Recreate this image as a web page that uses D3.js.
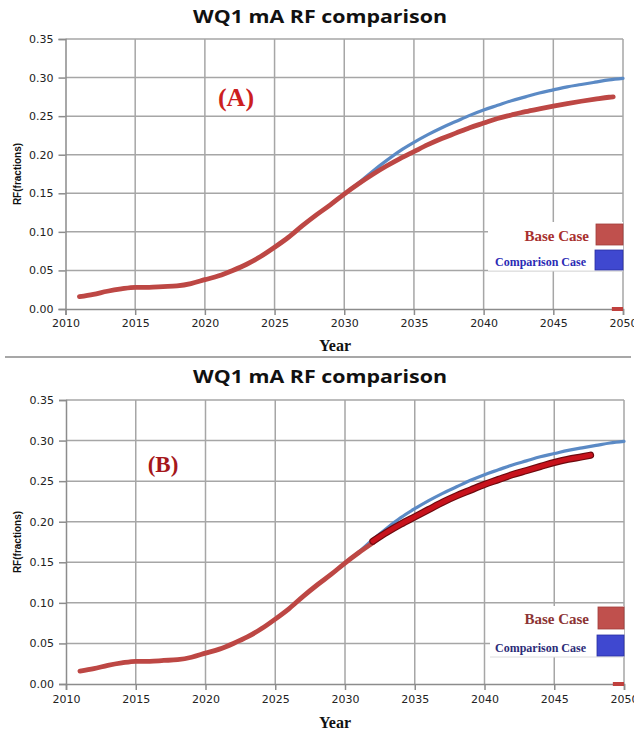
<!DOCTYPE html>
<html>
<head>
<meta charset="utf-8">
<script src="https://cdn.jsdelivr.net/npm/d3@7"></script>
<style>
  body { margin: 0; background: #fff; }
  svg { display: block; }
</style>
</head>
<body>
<div id="chart"></div>
<script>
(function() {
  // ---- data ----
  var xTicks = [2010, 2015, 2020, 2025, 2030, 2035, 2040, 2045, 2050];
  var yTicks = [0, 0.05, 0.10, 0.15, 0.20, 0.25, 0.30, 0.35];

  var baseYears = [2011, 2012, 2013, 2014, 2015, 2016, 2017, 2018, 2019, 2020,
                   2021, 2022, 2023, 2024, 2025, 2026, 2027, 2028, 2029, 2030,
                   2031, 2032, 2033, 2034, 2035, 2036, 2037, 2038, 2039, 2040,
                   2041, 2042, 2043, 2044, 2045, 2046, 2047, 2048, 2049, 2049.3];
  var baseCase = [0.016, 0.019, 0.023, 0.026, 0.028, 0.028, 0.029, 0.030, 0.033, 0.038,
                  0.043, 0.050, 0.058, 0.068, 0.080, 0.093, 0.108, 0.122, 0.135, 0.149,
                  0.162, 0.174, 0.185, 0.195, 0.204, 0.213, 0.221, 0.228, 0.235, 0.241,
                  0.247, 0.2515, 0.2558, 0.2595, 0.263, 0.2663, 0.2693, 0.272, 0.2745, 0.275];

  var compYears = [2029, 2030, 2031, 2032, 2033, 2034, 2035, 2036, 2037, 2038, 2039,
                   2040, 2041, 2042, 2043, 2044, 2045, 2046, 2047, 2048, 2049, 2050];
  var comparisonCase = [0.135, 0.149, 0.163, 0.178, 0.192, 0.205, 0.216, 0.226, 0.235, 0.243, 0.251,
                        0.258, 0.264, 0.270, 0.275, 0.280, 0.284, 0.288, 0.291, 0.294, 0.297, 0.299];

  // panel B: the base case after 2032 is redrawn
  var newBaseYears = [2032, 2033, 2034, 2035, 2036, 2037, 2038, 2039, 2040,
                      2041, 2042, 2043, 2044, 2045, 2046, 2047, 2047.6];
  var newBaseCase = [0.176, 0.187, 0.197, 0.206, 0.215, 0.224, 0.232, 0.239, 0.246,
                     0.252, 0.258, 0.263, 0.268, 0.273, 0.277, 0.280, 0.282];

  var tailYears = [2049.2, 2050];
  var tailValues = [0, 0];

  var W = 634, H = 733;
  var svg = d3.select('#chart').append('svg')
    .attr('width', W)
    .attr('height', H);

  var panels = [
    { label: '(A)', labelX: 236, labelY: 106, labelSize: 26, labelColor: '#cc1f1f',
      titleY: 23, x0: 65.5, x1: 623, yTop: 39, yBot: 309, tickY: 327, yearY: 351,
      legend: { boxX: 488, boxY: 222, boxW: 135, boxH: 49,
                baseColor: '#a8302e', compColor: '#2b2bb5',
                redRect: [596, 224, 27, 21], blueRect: [595, 250, 28, 20],
                baseTextY: 241, compTextY: 266 },
      redesign: false },
    { label: '(B)', labelX: 163, labelY: 472, labelSize: 23, labelColor: '#a5171b',
      titleY: 383, x0: 66, x1: 624, yTop: 400, yBot: 684, tickY: 703, yearY: 728,
      legend: { boxX: 490, boxY: 606, boxW: 134, boxH: 51,
                baseColor: '#8c3434', compColor: '#2c2c78',
                redRect: [598, 607, 26, 22], blueRect: [597, 635, 27, 21],
                baseTextY: 624, compTextY: 652 },
      redesign: true }
  ];

  // separator between the two panels
  svg.append('line')
    .attr('x1', 5).attr('x2', 631)
    .attr('y1', 357).attr('y2', 357)
    .style('stroke', '#8a8a8a')
    .style('stroke-width', 1.5);

  panels.forEach(drawPanel);

  function drawPanel(p) {
    var g = svg.append('g');
    var x = d3.scaleLinear().domain([2010, 2050]).range([p.x0, p.x1]);
    var y = d3.scaleLinear().domain([0, 0.35]).range([p.yBot, p.yTop]);

    // title
    g.append('text')
      .attr('x', 320).attr('y', p.titleY)
      .attr('text-anchor', 'middle')
      .attr('textLength', 254)
      .attr('lengthAdjust', 'spacingAndGlyphs')
      .style('font-family', '"Open Sans", "DejaVu Sans", sans-serif')
      .style('font-weight', 'bold')
      .style('font-size', '18px')
      .style('fill', '#111')
      .text('WQ1 mA RF comparison');

    // grid
    g.selectAll('.vgrid')
      .data(xTicks.slice(1))
      .enter().append('line')
        .attr('x1', x).attr('x2', x)
        .attr('y1', y(0.35)).attr('y2', y(0))
        .style('stroke', '#a6a6a6')
        .style('stroke-width', 1.5);
    g.selectAll('.hgrid')
      .data(yTicks.slice(1))
      .enter().append('line')
        .attr('x1', x(2010)).attr('x2', x(2050))
        .attr('y1', y).attr('y2', y)
        .style('stroke', '#a6a6a6')
        .style('stroke-width', 1.5);

    // axes
    var yAxis = d3.axisLeft(y).tickValues(yTicks).tickSize(7).tickFormat(d3.format('.2f'));
    var xAxis = d3.axisBottom(x).tickValues(xTicks).tickSize(6).tickFormat(d3.format('d'));

    var ya = g.append('g')
      .attr('transform', 'translate(' + x(2010) + ',0)')
      .call(yAxis);
    var xa = g.append('g')
      .attr('transform', 'translate(0,' + y(0) + ')')
      .call(xAxis);

    [ya, xa].forEach(function(a) {
      a.selectAll('path, line')
        .style('stroke', '#8c8c8c')
        .style('stroke-width', 1.5);
      a.selectAll('text')
        .style('font-family', '"DejaVu Sans", Verdana, sans-serif')
        .style('fill', '#222');
    });
    ya.selectAll('text').style('font-size', '11px').attr('x', -12);
    xa.selectAll('text').style('font-size', '11px').attr('y', 0).attr('dy', p.tickY - p.yBot);

    // axis titles
    g.append('text')
      .attr('transform', 'translate(21,' + (y(0.175)) + ') rotate(-90)')
      .attr('text-anchor', 'middle')
      .style('font-family', '"Liberation Sans Narrow", "Liberation Sans", Arial, sans-serif')
      .style('font-weight', 'bold')
      .style('font-size', '10px')
      .style('fill', '#111')
      .text('RF(fractions)');

    g.append('text')
      .attr('x', 335).attr('y', p.yearY)
      .attr('text-anchor', 'middle')
      .style('font-family', '"Liberation Serif", "Times New Roman", serif')
      .style('font-weight', 'bold')
      .style('font-size', '16px')
      .style('fill', '#111')
      .text('Year');

    // series
    var line = d3.line()
      .x(function(d) { return x(d[0]); })
      .y(function(d) { return y(d[1]); })
      .curve(d3.curveMonotoneX);

    var comp = d3.zip(compYears, comparisonCase);
    var base = d3.zip(baseYears, baseCase);
    if (p.redesign) {
      base = base.filter(function(d) { return d[0] <= 2032; });
    }

    g.append('path')
      .datum(comp)
      .attr('d', line)
      .style('fill', 'none')
      .style('stroke', '#5b8ac5')
      .style('stroke-width', 3.2)
      .style('stroke-linecap', 'round');

    g.append('path')
      .datum(base)
      .attr('d', line)
      .style('fill', 'none')
      .style('stroke', '#bd4744')
      .style('stroke-width', 4.8)
      .style('stroke-linecap', 'round');

    if (p.redesign) {
      var nb = d3.zip(newBaseYears, newBaseCase);
      g.append('path')
        .datum(nb)
        .attr('d', line)
        .style('fill', 'none')
        .style('stroke', '#6d0a0e')
        .style('stroke-width', 7.2)
        .style('stroke-linecap', 'round');
      g.append('path')
        .datum(nb)
        .attr('d', line)
        .style('fill', 'none')
        .style('stroke', '#c8121c')
        .style('stroke-width', 4.8)
        .style('stroke-linecap', 'round');
    }

    // small dash at zero near 2050
    g.append('path')
      .datum(d3.zip(tailYears, tailValues))
      .attr('d', line)
      .style('fill', 'none')
      .style('stroke', '#c0403d')
      .style('stroke-width', 4);

    // legend
    var L = p.legend;
    g.append('rect')
      .attr('x', L.boxX).attr('y', L.boxY)
      .attr('width', L.boxW).attr('height', L.boxH)
      .style('fill', '#fff');
    g.append('line')
      .attr('x1', L.boxX).attr('x2', L.boxX + L.boxW)
      .attr('y1', L.boxY + L.boxH).attr('y2', L.boxY + L.boxH)
      .style('stroke', '#dcdcdc')
      .style('stroke-width', 1);
    g.append('rect')
      .attr('x', L.redRect[0]).attr('y', L.redRect[1])
      .attr('width', L.redRect[2]).attr('height', L.redRect[3])
      .style('fill', '#c0504d')
      .style('stroke', '#a03c3a')
      .style('stroke-width', 0.8);
    g.append('rect')
      .attr('x', L.blueRect[0]).attr('y', L.blueRect[1])
      .attr('width', L.blueRect[2]).attr('height', L.blueRect[3])
      .style('fill', '#3f48d0')
      .style('stroke', '#2a2fa0')
      .style('stroke-width', 0.8);
    g.append('text')
      .attr('x', 589).attr('y', L.baseTextY)
      .attr('text-anchor', 'end')
      .style('font-family', '"Liberation Serif", "Times New Roman", serif')
      .style('font-weight', 'bold')
      .style('font-size', '15px')
      .style('fill', L.baseColor)
      .text('Base Case');
    g.append('text')
      .attr('x', 586).attr('y', L.compTextY)
      .attr('text-anchor', 'end')
      .style('font-family', '"Liberation Serif", "Times New Roman", serif')
      .style('font-weight', 'bold')
      .style('font-size', '12px')
      .style('fill', L.compColor)
      .text('Comparison Case');

    // panel label
    g.append('text')
      .attr('x', p.labelX).attr('y', p.labelY)
      .attr('text-anchor', 'middle')
      .style('font-family', '"Liberation Serif", "Times New Roman", serif')
      .style('font-weight', 'bold')
      .style('font-size', p.labelSize + 'px')
      .style('fill', p.labelColor)
      .text(p.label);
  }
})();
</script>
</body>
</html>
